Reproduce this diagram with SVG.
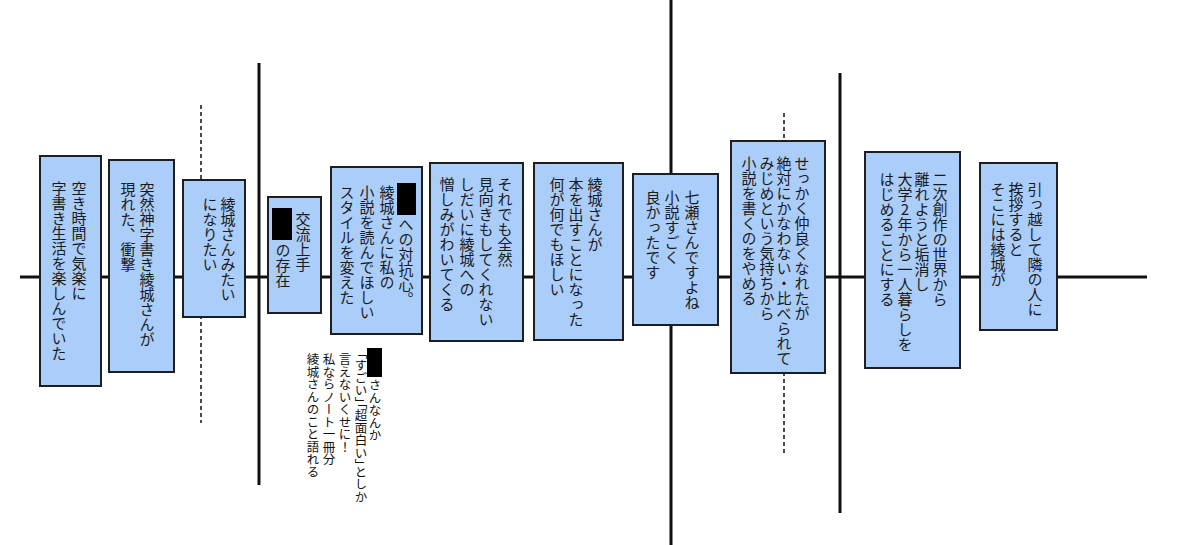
<svg xmlns="http://www.w3.org/2000/svg" width="1200" height="545" viewBox="0 0 1200 545">
<style>
.box{fill:#aacdfa;stroke:#1e1e1e;stroke-width:2}
.t{font-family:"Noto Sans CJK JP","Noto Sans CJK SC",sans-serif;font-size:15px;fill:#1a1a1a;writing-mode:vertical-rl;text-orientation:upright}
.s{font-family:"Noto Sans CJK JP","Noto Sans CJK SC",sans-serif;font-size:12.5px;fill:#111;writing-mode:vertical-rl;text-orientation:upright}
.hp{font-feature-settings:"vhal" 1}
.ln{stroke:#111;stroke-width:3;fill:none}
.dl{stroke:#111;stroke-width:1.5;stroke-dasharray:4 3;fill:none}
.blk{fill:#000}
</style>
<rect width="1200" height="545" fill="#fff"/>
<g id="connectors">
<line class="ln" x1="20" y1="277" x2="1147" y2="277"/>
<line class="ln" x1="259" y1="63" x2="259" y2="485"/>
<line class="ln" x1="671" y1="0" x2="671" y2="545"/>
<line class="ln" x1="840" y1="73" x2="840" y2="513"/>
<line class="dl" x1="201" y1="105" x2="201" y2="423"/>
<line class="dl" x1="784" y1="113" x2="784" y2="456"/>
</g>
<g id="n1">
<rect class="box" x="40" y="156" width="61" height="230"/>
<text class="t" x="79" y="181">空き時間で気楽に</text>
<text class="t" x="59" y="181">字書き生活を楽しんでいた</text>
</g>
<g id="n2">
<rect class="box" x="109" y="160" width="65" height="212"/>
<text class="t" x="147" y="182">突然神字書き綾城さんが</text>
<text class="t" x="128" y="182">現れた、衝撃</text>
</g>
<g id="n3">
<rect class="box" x="183" y="180" width="62" height="137"/>
<text class="t" x="228" y="197">綾城さんみたい</text>
<text class="t" x="210" y="197">になりたい</text>
</g>
<g id="n4">
<rect class="box" x="268" y="197" width="53" height="116"/>
<text class="t" x="303" y="212">交流上手</text>
<rect class="blk" x="272" y="208" width="20" height="32"/>
<text class="t" x="283" y="243">の存在</text>
</g>
<g id="n5">
<rect class="box" x="331" y="167" width="91" height="167"/>
<rect class="blk" x="397" y="183" width="19" height="32"/>
<text class="t" x="406" y="217">への対抗心。</text>
<text class="t" x="387" y="185">綾城さんに私の</text>
<text class="t" x="367" y="185">小説を読んでほしい</text>
<text class="t" x="347" y="185">スタイルを変えた</text>
</g>
<g id="note">
<rect class="blk" x="367" y="348" width="15" height="29"/>
<text class="s" x="375" y="379">さんなんか</text>
<text class="s hp" x="361" y="353">「すごい」「超面白い」としか</text>
<text class="s" x="345" y="353">言えないくせに！</text>
<text class="s" x="329" y="353">私ならノート一冊分</text>
<text class="s" x="313" y="353">綾城さんのこと語れる</text>
</g>
<g id="n6">
<rect class="box" x="430" y="163" width="93" height="178"/>
<text class="t" x="505" y="177">それでも全然</text>
<text class="t" x="486" y="177">見向きもしてくれない</text>
<text class="t" x="467" y="177">しだいに綾城への</text>
<text class="t" x="447" y="177">憎しみがわいてくる</text>
</g>
<g id="n7">
<rect class="box" x="534" y="163" width="89" height="177"/>
<text class="t" x="595" y="177">綾城さんが</text>
<text class="t" x="576" y="177">本を出すことになった</text>
<text class="t" x="557" y="177">何が何でもほしい</text>
</g>
<g id="n8">
<rect class="box" x="633" y="174" width="85" height="151"/>
<text class="t" x="692" y="190">七瀬さんですよね</text>
<text class="t" x="672" y="190">小説すごく</text>
<text class="t" x="653" y="190">良かったです</text>
</g>
<g id="n9">
<rect class="box" x="731" y="141" width="94" height="232"/>
<text class="t" x="802" y="156">せっかく仲良くなれたが</text>
<text class="t" x="784" y="156">絶対にかなわない・比べられて</text>
<text class="t" x="767" y="156">みじめという気持ちから</text>
<text class="t" x="749" y="156">小説を書くのをやめる</text>
</g>
<g id="n10">
<rect class="box" x="865" y="152" width="95" height="216"/>
<text class="t" x="940" y="172">二次創作の世界から</text>
<text class="t" x="922" y="172">離れようと垢消し</text>
<text class="t" x="905" y="172">大学2年から一人暮らしを</text>
<text class="t" x="887" y="172">はじめることにする</text>
</g>
<g id="n11">
<rect class="box" x="980" y="163" width="77" height="167"/>
<text class="t" x="1035" y="182">引っ越して隣の人に</text>
<text class="t" x="1016" y="182">挨拶すると</text>
<text class="t" x="998" y="182">そこには綾城が</text>
</g>
</svg>
